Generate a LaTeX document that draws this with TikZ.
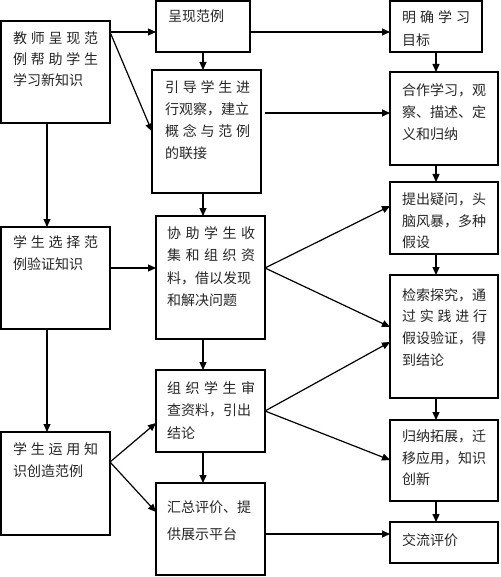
\documentclass[tikz,border=0pt]{standalone}
\usepackage{fontspec}
\setmainfont{Noto Sans CJK SC}
\usetikzlibrary{arrows.meta,calc}
\newcommand\sj[2][85pt]{\makebox[#1][s]{#2}}
\newcommand\mkbox[5]{\node[box,minimum width=#4pt,minimum height=#5pt] (#1) at (#2,#3) {};}
\begin{document}
\begin{tikzpicture}[x=1pt,y=-1pt,
  box/.style={draw, line width=1.2pt, inner sep=0pt, outer sep=0pt},
  txt/.style={anchor=north west, inner sep=0pt, align=left, font=\fontsize{14}{22}\selectfont, text=black!85},
  arr/.style={line width=1.2pt, -{Triangle[length=8pt,width=7pt]}}]
\useasboundingbox (0,0) rectangle (500,577);
\fill[white] (0,0) rectangle (500,577);
% boxes
\mkbox{A}{55.5}{72}{109}{102}
\mkbox{B}{55.5}{278}{109}{102}
\mkbox{C}{55.5}{483.5}{109}{103}
\mkbox{D}{203}{26.5}{94}{51}
\mkbox{E}{206.5}{131.5}{109}{123}
\mkbox{F}{210.5}{277.5}{109}{123}
\mkbox{G}{210.5}{411}{109}{82}
\mkbox{H}{210.5}{529}{109}{92}
\mkbox{I}{436}{26.5}{92}{51}
\mkbox{J}{444}{118.5}{108}{93}
\mkbox{K}{444}{218}{108}{72}
\mkbox{L}{444}{336.5}{108}{123}
\mkbox{M}{444}{460.5}{108}{81}
\mkbox{N}{444}{542.5}{108}{41}
% texts
\node[txt,font=\fontsize{14}{21}\selectfont] (tA) at (13,32) {\sj{教\hfill 师\hfill 呈\hfill 现\hfill 范}\\\sj{例\hfill 帮\hfill 助\hfill 学\hfill 生}\\学习新知识};
\node[txt] (tB) at (13,235) {\sj{学\hfill 生\hfill 选\hfill 择\hfill 范}\\例验证知识};
\node[txt] (tC) at (13,442) {\sj{学\hfill 生\hfill 运\hfill 用\hfill 知}\\识创造范例};
\node[txt] (tD) at (168,10) {呈现范例};
\node[txt] (tE) at (165,80) {\sj{引\hfill 导\hfill 学\hfill 生\hfill 进}\\行观察，建立\\\sj{概\hfill 念\hfill 与\hfill 范\hfill 例}\\的联接};
\node[txt,font=\fontsize{14}{22.5}\selectfont] (tF) at (167,226) {\sj[88pt]{协\hfill 助\hfill 学\hfill 生\hfill 收}\\\sj[88pt]{集\hfill 和\hfill 组\hfill 织\hfill 资}\\料，借以发现\\和解决问题};
\node[txt,font=\fontsize{14}{22.5}\selectfont] (tG) at (167,381) {\sj[88pt]{组\hfill 织\hfill 学\hfill 生\hfill 审}\\查资料，引出\\结论};
\node[txt,font=\fontsize{14}{27}\selectfont] (tH) at (167,501) {汇总评价、提\\供展示平台};
\node[txt,font=\fontsize{14}{23}\selectfont] (tI) at (402,10) {\sj[68pt]{明\hfill 确\hfill 学\hfill 习}\\目标};
\node[txt] (tJ) at (402,83) {合作学习，观\\察、描述、定\\义和归纳};
\node[txt,font=\fontsize{14}{21.5}\selectfont] (tK) at (402,193) {提出疑问，头\\脑风暴，多种\\假设};
\node[txt,font=\fontsize{14}{21.7}\selectfont] (tL) at (402,288) {检索探究，通\\\sj{过\hfill 实\hfill 践\hfill 进\hfill 行}\\假设验证，得\\到结论};
\node[txt,font=\fontsize{14}{21.5}\selectfont] (tM) at (402,430) {归纳拓展，迁\\移应用，知识\\创新};
\node[txt] (tN) at (402,533) {交流评价};
% helper coordinates
\coordinate (r1) at (0,32);
\coordinate (r2) at (0,113);
\coordinate (r3) at (0,268);
\coordinate (r4) at (0,534);
\coordinate (lx) at (47,0);
\coordinate (mx) at (203,0);
\coordinate (rx) at (436,0);
\coordinate (kin) at (0,206);
\coordinate (lin1) at (0,327);
\coordinate (lin2) at (0,342);
\coordinate (min) at (0,460);
\coordinate (cout) at (0,462);
\coordinate (gin) at (0,423);
\coordinate (hin) at (0,512);
% arrows
\draw[arr] (A.east |- r1) -- (D.west |- r1);
\draw[arr] (D.east |- r1) -- (I.west |- r1);
\draw[arr] (A.east |- r1) -- (E.west);
\draw[arr] ([xshift=4pt]E.east |- r2) -- (J.west |- r2);
\draw[arr] (A.south -| lx) -- (B.north -| lx);
\draw[arr] (B.south -| lx) -- (C.north -| lx);
\draw[arr] (D.south -| mx) -- (E.north -| mx);
\draw[arr] (E.south -| mx) -- (F.north -| mx);
\draw[arr] (F.south -| mx) -- (G.north -| mx);
\draw[arr] (G.south -| mx) -- (H.north -| mx);
\draw[arr] (I.south -| rx) -- (J.north -| rx);
\draw[arr] (J.south -| rx) -- (K.north -| rx);
\draw[arr] (K.south -| rx) -- (L.north -| rx);
\draw[arr] (L.south -| rx) -- (M.north -| rx);
\draw[arr] (M.south -| rx) -- (N.north -| rx);
\draw[arr] (B.east |- r3) -- (F.west |- r3);
\draw[arr] (F.east |- r3) -- (K.west |- kin);
\draw[arr] (F.east |- r3) -- (L.west |- lin1);
\draw[arr] (G.east) -- (L.west |- lin2);
\draw[arr] (G.east) -- (M.west |- min);
\draw[arr] (C.east |- cout) -- (G.west |- gin);
\draw[arr] (C.east |- cout) -- (H.west |- hin);
\draw[arr] (H.east |- r4) -- (N.west |- r4);
\end{tikzpicture}
\end{document}
